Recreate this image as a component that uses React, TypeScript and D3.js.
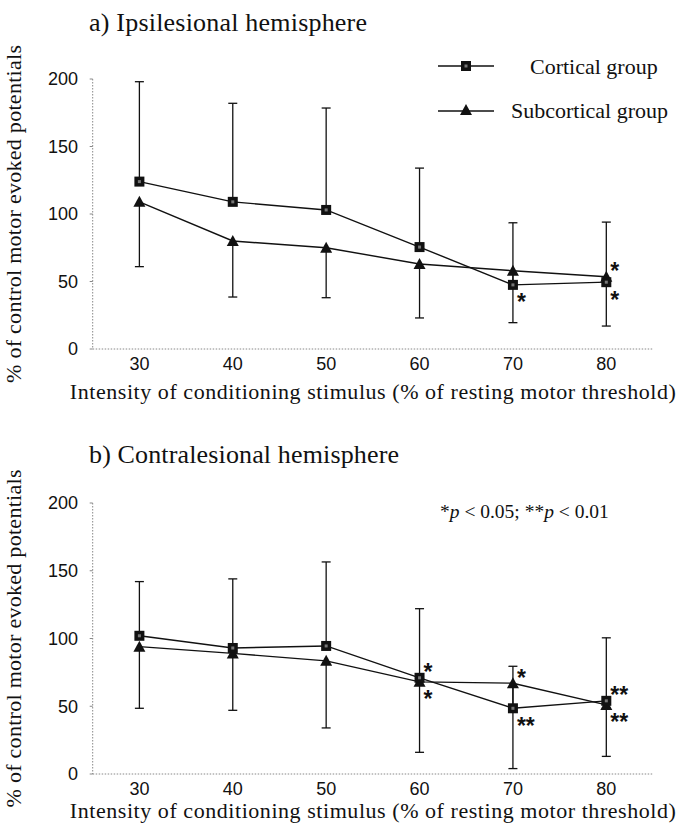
import React from 'react';
import * as d3 from 'd3';

// stimulus intensities (% of resting motor threshold)
const intensities = [30, 40, 50, 60, 70, 80];
const yTicks = [0, 50, 100, 150, 200];

// a) ipsilesional hemisphere, mean and SD (% of control MEP)
const ipsiCortical = [124, 109, 103, 75.5, 47.5, 49.5];
const ipsiCorticalSD = [74, 73, 75.5, 58.5, 46, 44.5];
const ipsiSubcortical = [109, 80, 75, 63, 58, 53.5];
const ipsiSubcorticalSD = [48, 41.5, 37, 40, 38.5, 36.5];

// b) contralesional hemisphere
const contraCortical = [102, 93, 94.5, 71, 48.5, 54];
const contraCorticalSD = [40, 51, 62, 51, 31, 46.5];
const contraSubcortical = [94, 89, 83.5, 68, 67, 51];
const contraSubcorticalSD = [45.5, 42, 49.5, 52, 63, 38];

// significance marks: which point, which side of it
const ipsiStars = [
	{ x: 70, series: 'cortical', side: 'below', label: '*' },
	{ x: 80, series: 'subcortical', side: 'above', label: '*' },
	{ x: 80, series: 'cortical', side: 'below', label: '*' },
];
const contraStars = [
	{ x: 60, series: 'cortical', side: 'above', label: '*' },
	{ x: 60, series: 'subcortical', side: 'below', label: '*' },
	{ x: 70, series: 'subcortical', side: 'above', label: '*' },
	{ x: 70, series: 'cortical', side: 'below', label: '**' },
	{ x: 80, series: 'cortical', side: 'above', label: '**' },
	{ x: 80, series: 'subcortical', side: 'below', label: '**' },
];

const serif = '"Liberation Serif", "Times New Roman", serif';
const sans = '"Liberation Sans", Arial, sans-serif';

const x = d3.scaleLinear().domain( [ 25, 85 ] ).range( [ 92.7, 653 ] );

const Square = ( { cx, cy } ) => (
	<g>
		<rect x={cx - 5} y={cy - 5} width={10} height={10} fill="#111" />
		<rect x={cx - 1.5} y={cy - 1.5} width={3} height={3} fill="#777" />
	</g>
);

const Triangle = ( { cx, cy } ) => (
	<path d={`M${cx},${cy - 6}L${cx + 6},${cy + 5}L${cx - 6},${cy + 5}Z`} fill="#111" />
);

const Panel = ( props ) => {
	const y = d3.scaleLinear().domain( [ 0, 200 ] ).range( [ props.bottom, props.top ] );
	const line = d3
		.line()
		.x( ( d, i ) => x( intensities[ i ] ) )
		.y( ( d ) => y( d ) );
	const series = { cortical: props.cortical, subcortical: props.subcortical };
	const midY = ( props.top + props.bottom ) / 2;

	return (
		<g>
			<text x={89} y={props.titleY} fontFamily={serif} fontSize={26} textLength={props.titleLen} fill="#111">
				{props.title}
			</text>

			{/* axes, dotted like the scan */}
			<line x1={x( 25 )} x2={x( 25 )} y1={y( 200 )} y2={y( 0 )} stroke="#888" strokeDasharray="1.5,1.5" />
			<line x1={x( 25 )} x2={x( 85 )} y1={y( 0 )} y2={y( 0 )} stroke="#888" strokeDasharray="1.5,1.5" />
			{yTicks.map( ( t ) => (
				<g key={t}>
					<line x1={x( 25 ) - 3} x2={x( 25 )} y1={y( t )} y2={y( t )} stroke="#888" />
					<text x={78} y={y( t )} dy="0.36em" textAnchor="end" fontFamily={sans} fontSize={18} fill="#111">
						{t}
					</text>
				</g>
			) )}
			{intensities.map( ( v ) => (
				<text key={v} x={x( v )} y={y( 0 ) + 21} textAnchor="middle" fontFamily={sans} fontSize={18} fill="#111">
					{v}
				</text>
			) )}
			<text
				x={x( 55 )}
				y={props.xTitleY}
				textAnchor="middle"
				fontFamily={serif}
				fontSize={22}
				textLength={606}
				fill="#111"
			>
				Intensity of conditioning stimulus (% of resting motor threshold)
			</text>
			<text
				transform={`translate(21,${midY}) rotate(-90)`}
				textAnchor="middle"
				fontFamily={serif}
				fontSize={22}
				textLength={338}
				fill="#111"
			>
				% of control motor evoked potentials
			</text>

			{/* error bars: cortical up, subcortical down */}
			{intensities.map( ( v, i ) => {
				const up = y( props.cortical[ i ] + props.corticalSD[ i ] );
				const lo = y( props.subcortical[ i ] - props.subcorticalSD[ i ] );
				return (
					<g key={v} stroke="#111" strokeWidth={1.3}>
						<line x1={x( v )} x2={x( v )} y1={up} y2={y( props.cortical[ i ] )} />
						<line x1={x( v ) - 4.5} x2={x( v ) + 4.5} y1={up} y2={up} />
						<line x1={x( v )} x2={x( v )} y1={lo} y2={y( props.subcortical[ i ] )} />
						<line x1={x( v ) - 4.5} x2={x( v ) + 4.5} y1={lo} y2={lo} />
					</g>
				);
			} )}

			<path d={line( props.subcortical )} fill="none" stroke="#111" strokeWidth={1.4} />
			<path d={line( props.cortical )} fill="none" stroke="#111" strokeWidth={1.4} />
			{props.subcortical.map( ( d, i ) => (
				<Triangle key={i} cx={x( intensities[ i ] )} cy={y( d )} />
			) )}
			{props.cortical.map( ( d, i ) => (
				<Square key={i} cx={x( intensities[ i ] )} cy={y( d )} />
			) )}

			{props.stars.map( ( s, k ) => {
				const i = intensities.indexOf( s.x );
				const py = y( series[ s.series ][ i ] );
				const cy = s.side === 'above' ? py - 11 : py + 12;
				return (
					<text key={k} x={x( s.x ) + 4} y={cy + 13.5} fontFamily={sans} fontWeight="bold" fontSize={23} fill="#111">
						{s.label}
					</text>
				);
			} )}

			{props.legend && (
				<g>
					<line x1={438} x2={494} y1={66} y2={66} stroke="#111" strokeWidth={1.3} />
					<Square cx={466} cy={66} />
					<text x={530} y={73.5} fontFamily={serif} fontSize={22} fill="#111">
						Cortical group
					</text>
					<line x1={438} x2={494} y1={111} y2={111} stroke="#111" strokeWidth={1.3} />
					<Triangle cx={466} cy={110} />
					<text x={511} y={118} fontFamily={serif} fontSize={22} fill="#111">
						Subcortical group
					</text>
				</g>
			)}
			{props.note && (
				<text x={440} y={518} fontFamily={serif} fontSize={19.5} fill="#111">
					*<tspan fontStyle="italic">p</tspan> &lt; 0.05; **<tspan fontStyle="italic">p</tspan> &lt; 0.01
				</text>
			)}
		</g>
	);
};

export default function App() {
	return (
		<svg width={676} height={829} style={{ position: 'absolute', left: 0, top: 0, background: '#fff' }}>
			<rect width={676} height={829} fill="#fff" />
			<Panel
				title="a) Ipsilesional hemisphere"
				titleY={31}
				titleLen={278}
				top={79}
				bottom={349}
				xTitleY={399}
				cortical={ipsiCortical}
				corticalSD={ipsiCorticalSD}
				subcortical={ipsiSubcortical}
				subcorticalSD={ipsiSubcorticalSD}
				stars={ipsiStars}
				legend
			/>
			<Panel
				title="b) Contralesional hemisphere"
				titleY={463}
				titleLen={310}
				top={503}
				bottom={774}
				xTitleY={818}
				cortical={contraCortical}
				corticalSD={contraCorticalSD}
				subcortical={contraSubcortical}
				subcorticalSD={contraSubcorticalSD}
				stars={contraStars}
				note
			/>
		</svg>
	);
}
